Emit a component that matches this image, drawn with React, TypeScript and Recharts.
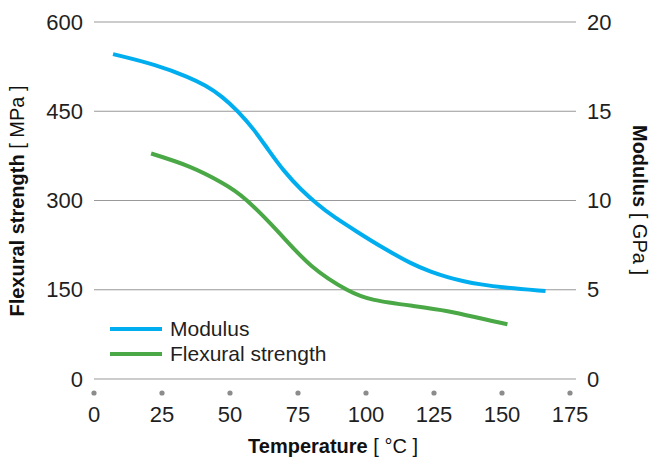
import { LineChart, Line, XAxis, YAxis, CartesianGrid } from "recharts";

const modTemp = [7, 23, 35, 41, 47, 53, 59, 64, 70, 76, 82, 88, 97, 105, 117, 124, 130, 136, 142, 150, 166];
const modVals = [18.2, 17.6, 16.9, 16.45, 15.85, 15.0, 13.95, 12.85, 11.6, 10.62, 9.8, 9.09, 8.22, 7.45, 6.42, 6.0, 5.7, 5.47, 5.3, 5.13, 4.93];

const flexTemp = [21, 35, 47, 56, 68, 80, 93, 103, 117, 130, 142, 152];
const flexVals = [379, 357, 330, 301, 246, 190, 150, 133, 123, 114, 102, 92];

const xTicks = [0, 25, 50, 75, 100, 125, 150, 175];
const leftTicks = [0, 150, 300, 450, 600];
const rightTicks = [0, 5, 10, 15, 20];

const BLUE = "#00aeef";
const GREEN = "#4aa846";
const FONT = "'Liberation Sans', Arial, sans-serif";
const INK = "#1f1f1f";

const modData = modTemp.map((t, i) => ({ t, v: modVals[i] }));
const flexData = flexTemp.map((t, i) => ({ t, v: flexVals[i] }));

function XTick({ x, payload }: any) {
  return (
    <g>
      <circle cx={x} cy={393} r={2.6} fill="#8c8c8c" />
      <text x={x} y={414} textAnchor="middle" dominantBaseline="central" fontSize={22} fill={INK} fontFamily={FONT}>
        {payload.value}
      </text>
    </g>
  );
}

function LeftTick({ y, payload }: any) {
  return (
    <text x={83} y={y} textAnchor="end" dominantBaseline="central" fontSize={22} fill={INK} fontFamily={FONT}>
      {payload.value}
    </text>
  );
}

function RightTick({ y, payload }: any) {
  return (
    <text x={587} y={y} textAnchor="start" dominantBaseline="central" fontSize={22} fill={INK} fontFamily={FONT}>
      {payload.value}
    </text>
  );
}

const legendItems = [
  { name: "Modulus", color: BLUE },
  { name: "Flexural strength", color: GREEN },
];

export default function App() {
  return (
    <div style={{ position: "absolute", left: 0, top: 0, width: 650, height: 460, background: "#fff" }}>
      <LineChart width={650} height={460} margin={{ top: 22, right: 0, left: 0, bottom: 0 }}>
        <CartesianGrid yAxisId="left" vertical={false} stroke="#999" strokeWidth={1.2} />
        <XAxis
          type="number"
          dataKey="t"
          domain={[0, 175]}
          ticks={xTicks}
          padding={{ left: 0, right: 6 }}
          height={81}
          axisLine={false}
          tickLine={false}
          tick={<XTick />}
          allowDuplicatedCategory={false}
        />
        <YAxis
          yAxisId="left"
          domain={[0, 600]}
          ticks={leftTicks}
          width={94}
          axisLine={false}
          tickLine={false}
          tick={<LeftTick />}
        />
        <YAxis
          yAxisId="right"
          orientation="right"
          domain={[0, 20]}
          ticks={rightTicks}
          width={74}
          axisLine={false}
          tickLine={false}
          tick={<RightTick />}
        />
        <Line
          yAxisId="right"
          data={modData}
          dataKey="v"
          type="basis"
          stroke={BLUE}
          strokeWidth={4}
          dot={false}
          isAnimationActive={false}
        />
        <Line
          yAxisId="left"
          data={flexData}
          dataKey="v"
          type="natural"
          stroke={GREEN}
          strokeWidth={4}
          dot={false}
          isAnimationActive={false}
        />
        <text x={17} y={201} transform="rotate(-90 17 201)" textAnchor="middle" dominantBaseline="central" fontSize={20} fill="#111" fontFamily={FONT}>
          <tspan fontWeight="bold">Flexural strength</tspan>
          <tspan> [ MPa ]</tspan>
        </text>
        <text x={640} y={200} transform="rotate(90 640 200)" textAnchor="middle" dominantBaseline="central" fontSize={20} fill="#111" fontFamily={FONT}>
          <tspan fontWeight="bold">Modulus</tspan>
          <tspan> [ GPa ]</tspan>
        </text>
        <text x={333} y={446} textAnchor="middle" dominantBaseline="central" fontSize={20} fill="#111" fontFamily={FONT}>
          <tspan fontWeight="bold">Temperature</tspan>
          <tspan> [ °C ]</tspan>
        </text>
      </LineChart>
      <div style={{ position: "absolute", left: 110, top: 316, fontFamily: FONT, fontSize: 21, color: INK }}>
        {legendItems.map((it) => (
          <div key={it.name} style={{ display: "flex", alignItems: "center", height: 25 }}>
            <span style={{ display: "inline-block", width: 52, height: 4, background: it.color, marginRight: 8 }} />
            <span>{it.name}</span>
          </div>
        ))}
      </div>
    </div>
  );
}
